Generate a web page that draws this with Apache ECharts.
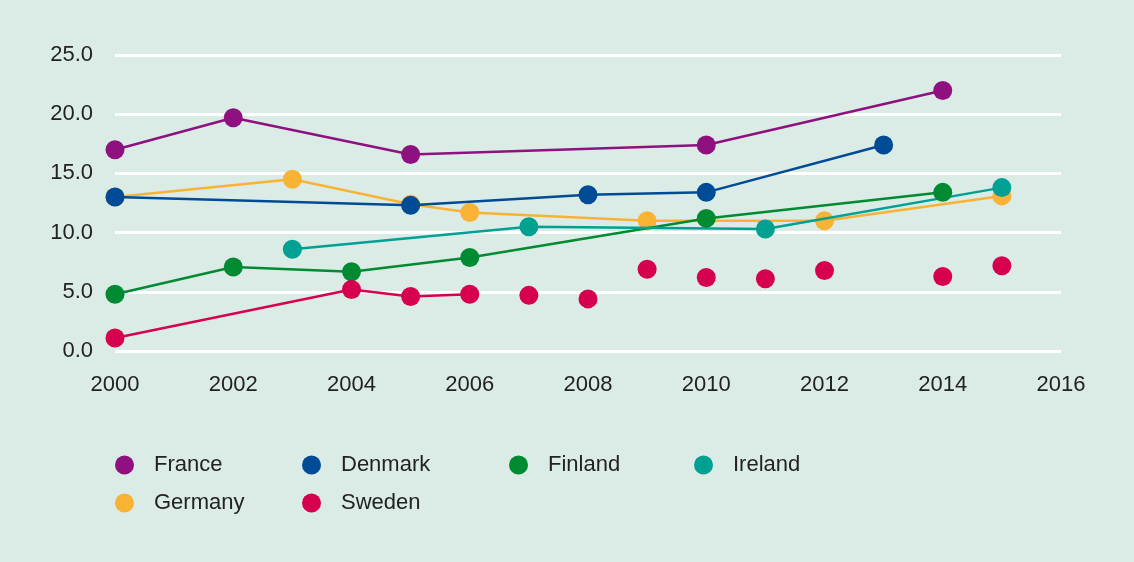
<!DOCTYPE html>
<html>
<head>
<meta charset="utf-8">
<script src="https://cdn.jsdelivr.net/npm/echarts@6/dist/echarts.min.js"></script>
<style>
html, body { margin: 0; padding: 0; background: #DBECE7; }
#main { width: 1134px; height: 562px; }
</style>
</head>
<body>
<div id="main"></div>
<script>
// data: [year, value]
var france  = [[2000, 17.0], [2002, 19.7], [2005, 16.6], [2010, 17.4], [2014, 22.0]];
var denmark = [[2000, 13.0], [2005, 12.3], [2008, 13.2], [2010, 13.4], [2013, 17.4]];
var finland = [[2000, 4.8], [2002, 7.1], [2004, 6.7], [2006, 7.9], [2010, 11.2], [2014, 13.4]];
var ireland = [[2003, 8.6], [2007, 10.5], [2011, 10.3], [2015, 13.8]];
var germany = [[2000, 13.0], [2003, 14.5], [2005, 12.4], [2006, 11.7], [2009, 11.0], [2012, 11.0], [2015, 13.1]];
var swedenLine = [[2000, 1.1], [2004, 5.2], [2005, 4.6], [2006, 4.8]];
var swedenDots = [[2007, 4.7], [2008, 4.4], [2009, 6.9], [2010, 6.2], [2011, 6.1], [2012, 6.8], [2014, 6.3], [2015, 7.2]];

var names  = ['France', 'Denmark', 'Finland', 'Ireland', 'Germany', 'Sweden'];
var colors = ['#8E117F', '#004B96', '#008A32', '#00A093', '#F9B334', '#D6004F'];

var myChart = echarts.init(document.getElementById('main'));

function lineSeries(name, data, color, z) {
	return {
		name: name,
		type: 'line',
		data: data,
		z: z,
		symbol: 'circle',
		symbolSize: 19,
		itemStyle: { color: color, opacity: 1 },
		lineStyle: { color: color, width: 2.5 },
		emphasis: { disabled: true },
		animation: false
	};
}

// one legend per entry so they sit on the same grid as the picture
var legendPos = [[115, 454], [302, 454], [509, 454], [694, 454], [115, 492], [302, 492]];
var legends = names.map(function (n, i) {
	return {
		data: [n],
		left: legendPos[i][0],
		top: legendPos[i][1],
		padding: 0,
		icon: 'circle',
		itemWidth: 19,
		itemHeight: 19,
		itemGap: 0,
		selectedMode: false,
		textStyle: { fontFamily: 'Liberation Sans', fontSize: 22, color: '#222', padding: [0, 0, 0, 15] }
	};
});

var option = {
	backgroundColor: '#DBECE7',
	color: colors,
	legend: legends,
	grid: { left: 115, right: 73, top: 55, bottom: 211, containLabel: false },
	xAxis: {
		type: 'value',
		min: 2000,
		max: 2016,
		interval: 2,
		axisLine: { show: false },
		axisTick: { show: false },
		splitLine: { show: false },
		axisLabel: {
			fontFamily: 'Liberation Sans', fontSize: 22, color: '#222', margin: 23,
			formatter: function (v) { return String(v); }
		}
	},
	yAxis: {
		type: 'value',
		min: 0,
		max: 25,
		interval: 5,
		axisLine: { show: false },
		axisTick: { show: false },
		splitLine: { lineStyle: { color: '#ffffff', width: 3 } },
		axisLabel: {
			fontFamily: 'Liberation Sans', fontSize: 22, color: '#222', margin: 22,
			formatter: function (v) { return v.toFixed(1); }
		}
	},
	series: [
		lineSeries('France', france, colors[0], 3),
		lineSeries('Denmark', denmark, colors[1], 3),
		lineSeries('Finland', finland, colors[2], 3),
		lineSeries('Ireland', ireland, colors[3], 3),
		lineSeries('Germany', germany, colors[4], 2),
		lineSeries('Sweden', swedenLine, colors[5], 3),
		{
			name: 'Sweden',
			type: 'scatter',
			data: swedenDots,
			z: 3,
			symbol: 'circle',
			symbolSize: 19,
			itemStyle: { color: colors[5], opacity: 1 },
			emphasis: { disabled: true },
			animation: false
		}
	]
};

myChart.setOption(option);
</script>
</body>
</html>
